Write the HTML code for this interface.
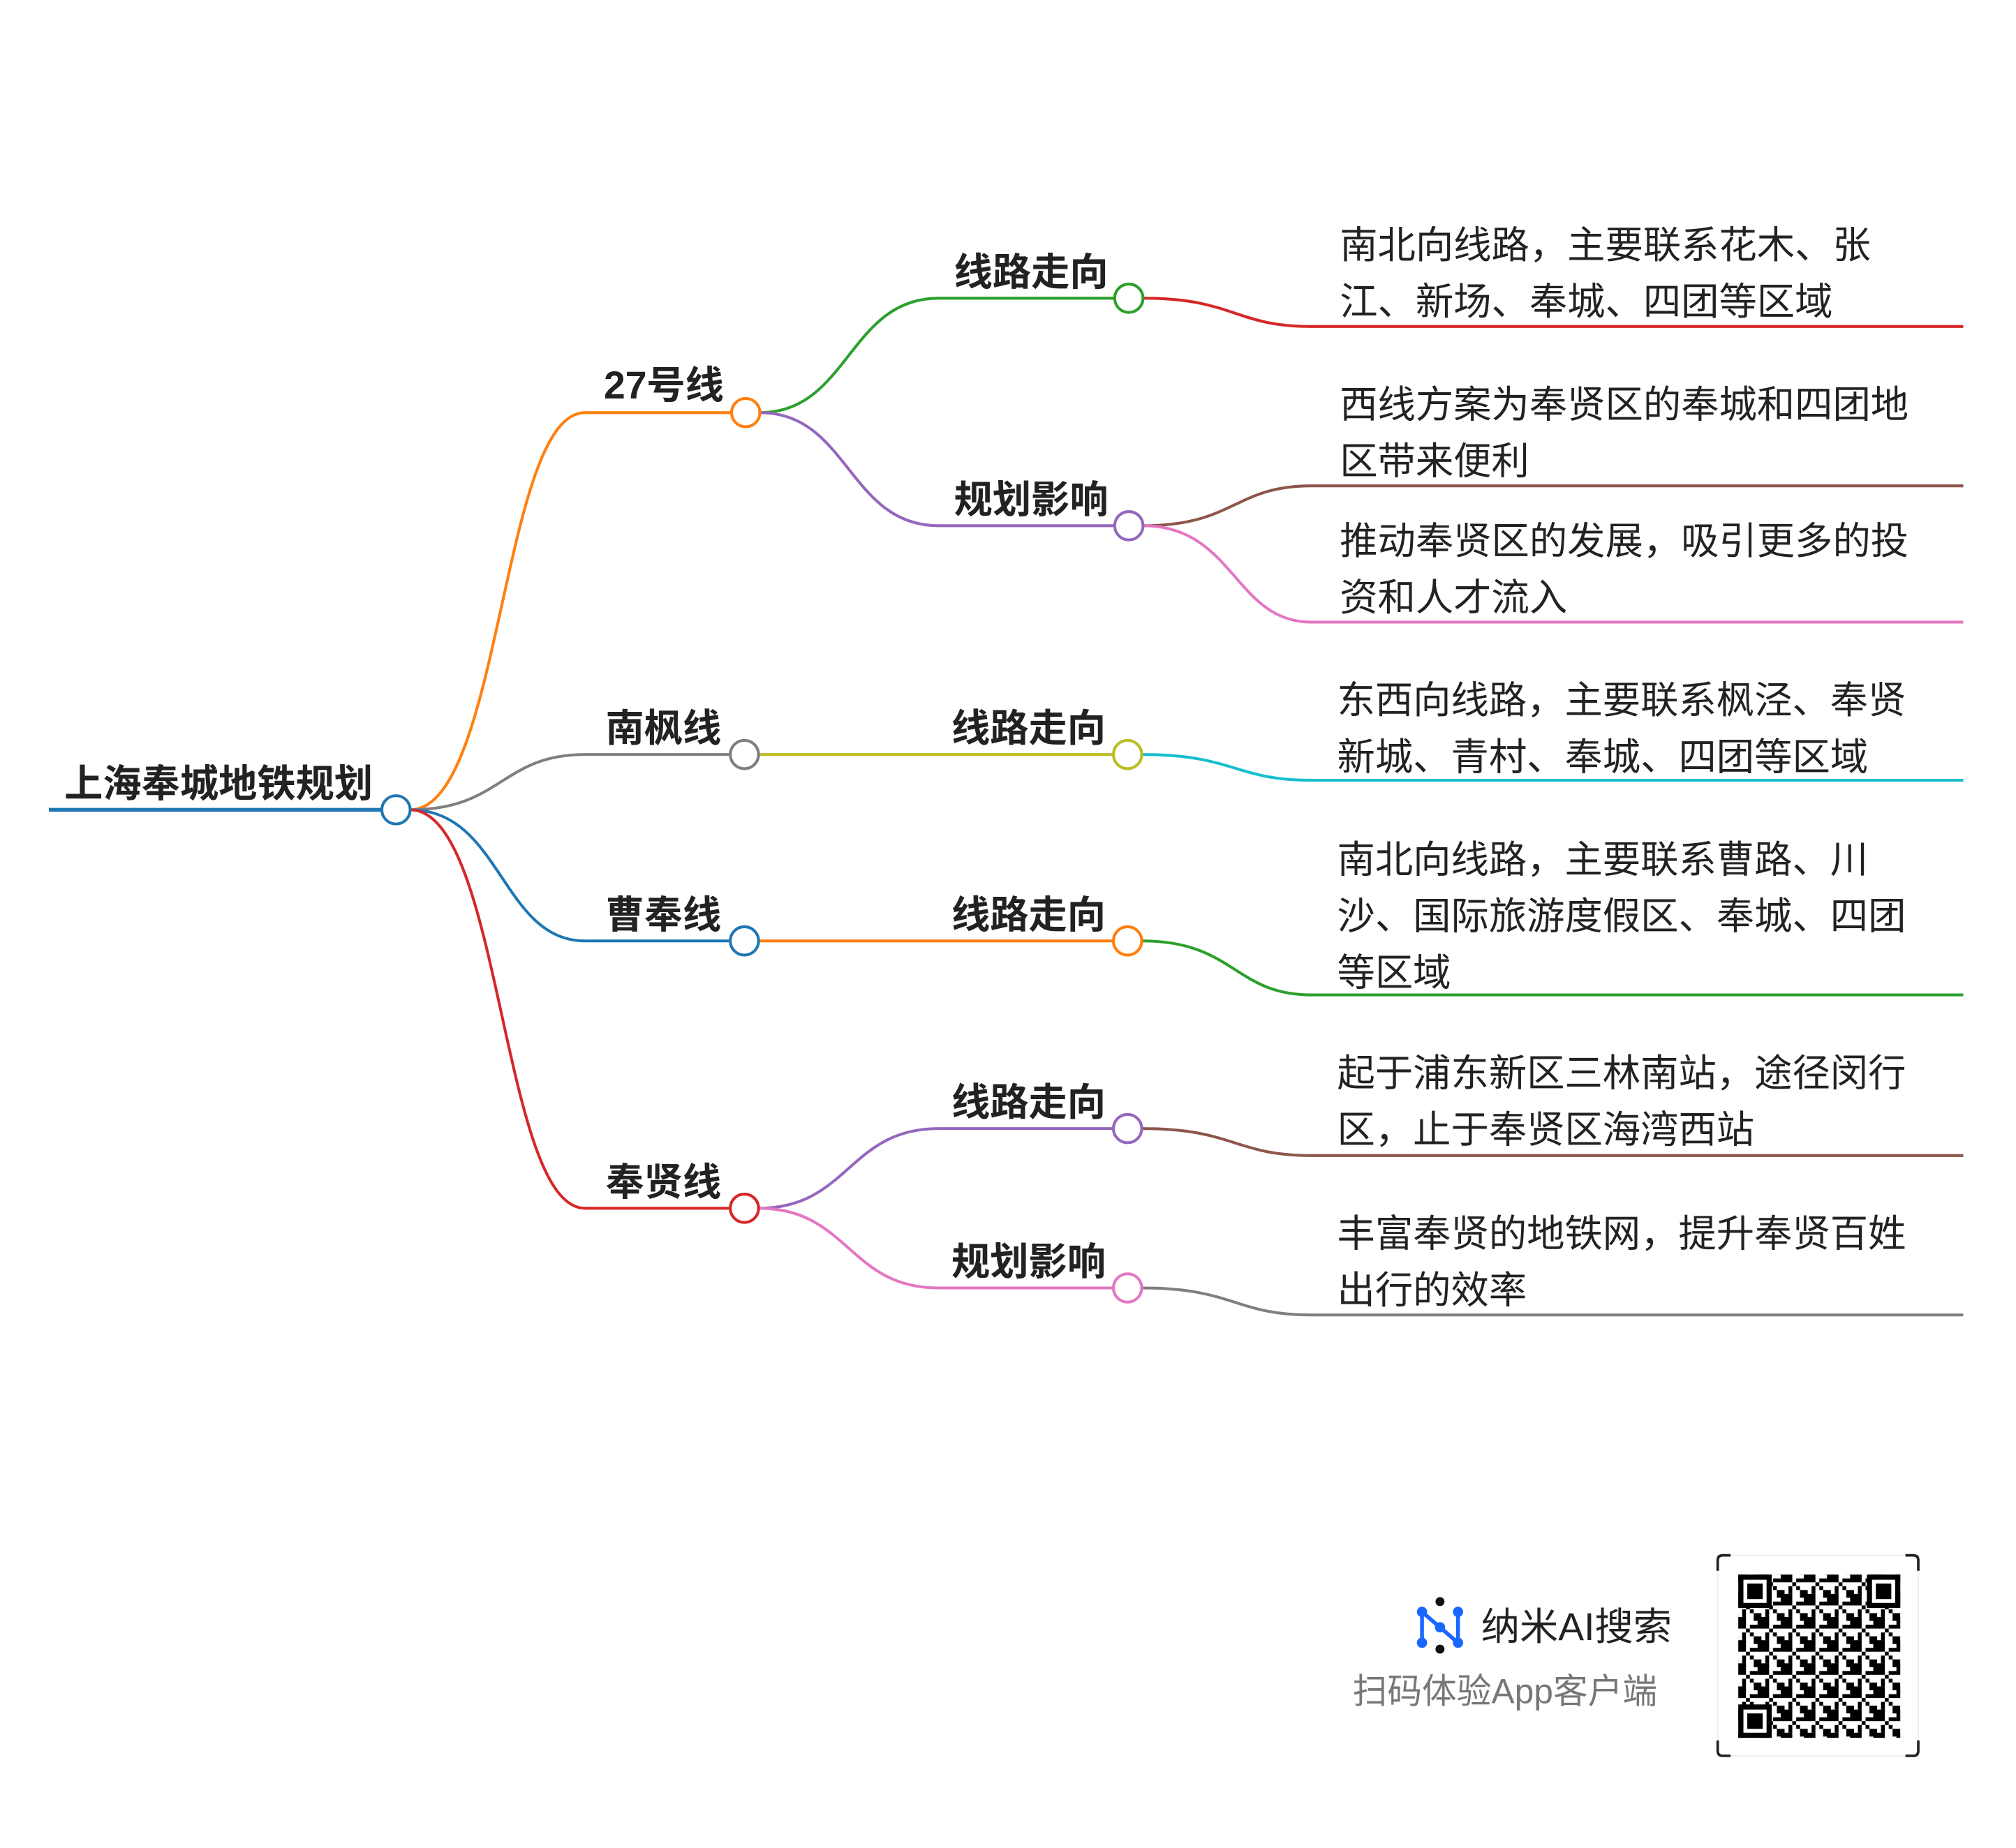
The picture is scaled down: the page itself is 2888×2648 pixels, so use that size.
<!DOCTYPE html>
<html><head><meta charset="utf-8"><style>
html,body{margin:0;padding:0;background:#fff;}
svg{display:block;}
text{font-family:"Liberation Sans","Noto Sans CJK SC",sans-serif;}
.b{font-weight:bold;font-size:30px;fill:#222;}
.t{font-size:29.5px;fill:#222;}
</style></head><body>
<svg width="2888" height="2648" viewBox="0 0 1568 1437.7" xmlns="http://www.w3.org/2000/svg">
<g fill="none" stroke-width="2.2">
<line x1="38" y1="630" x2="297" y2="630" stroke="#1f77b4" stroke-width="3"/>
<path d="M319 630 C390 630 390 321 455 321 L569 321" stroke="#ff7f0e"/>
<path d="M319 630 C390 630 390 587 455 587 L567 587" stroke="#7f7f7f"/>
<path d="M319 630 C390 630 390 732 455 732 L567 732" stroke="#1f77b4"/>
<path d="M319 630 C390 630 390 940 455 940 L567 940" stroke="#d62728"/>
<path d="M591 321 C660 321 660 232 730 232 L867 232" stroke="#2ca02c"/>
<path d="M591 321 C660 321 660 409 730 409 L867 409" stroke="#9467bd"/>
<line x1="590" y1="587" x2="865" y2="587" stroke="#bcbd22"/>
<line x1="590" y1="732" x2="865" y2="732" stroke="#ff7f0e"/>
<path d="M590 940 C660 940 660 878 730 878 L865 878" stroke="#9467bd"/>
<path d="M590 940 C660 940 660 1002 730 1002 L865 1002" stroke="#e377c2"/>
<path d="M889 232 C960 232 960 254 1020 254 L1527 254" stroke="#d62728"/>
<path d="M889 409 C960 409 960 378 1020 378 L1527 378" stroke="#8c564b"/>
<path d="M889 409 C960 409 960 484 1020 484 L1527 484" stroke="#e377c2"/>
<path d="M888 587 C960 587 960 607 1020 607 L1527 607" stroke="#17becf"/>
<path d="M888 732 C960 732 960 774 1020 774 L1527 774" stroke="#2ca02c"/>
<path d="M888 878 C960 878 960 899 1020 899 L1527 899" stroke="#8c564b"/>
<path d="M888 1002 C960 1002 960 1023 1020 1023 L1527 1023" stroke="#7f7f7f"/>
</g>
<g fill="#fff" stroke-width="2.2">
<circle cx="308" cy="630" r="11" stroke="#1f77b4"/>
<circle cx="580" cy="321" r="11" stroke="#ff7f0e"/>
<circle cx="579" cy="587" r="11" stroke="#7f7f7f"/>
<circle cx="579" cy="732" r="11" stroke="#1f77b4"/>
<circle cx="579" cy="940" r="11" stroke="#d62728"/>
<circle cx="878" cy="232" r="11" stroke="#2ca02c"/>
<circle cx="878" cy="409" r="11" stroke="#9467bd"/>
<circle cx="877" cy="587" r="11" stroke="#bcbd22"/>
<circle cx="877" cy="732" r="11" stroke="#ff7f0e"/>
<circle cx="877" cy="878" r="11" stroke="#9467bd"/>
<circle cx="877" cy="1002" r="11" stroke="#e377c2"/>
</g>
<text class="b" x="290" y="620" text-anchor="end">上海奉城地铁规划</text>
<text class="b" x="563" y="310" text-anchor="end">27号线</text>
<text class="b" x="561" y="577" text-anchor="end">南枫线</text>
<text class="b" x="561" y="722" text-anchor="end">曹奉线</text>
<text class="b" x="561" y="930" text-anchor="end">奉贤线</text>
<text class="b" x="862" y="222" text-anchor="end">线路走向</text>
<text class="b" x="862" y="399" text-anchor="end">规划影响</text>
<text class="b" x="860" y="577" text-anchor="end">线路走向</text>
<text class="b" x="860" y="722" text-anchor="end">线路走向</text>
<text class="b" x="860" y="868" text-anchor="end">线路走向</text>
<text class="b" x="860" y="992" text-anchor="end">规划影响</text>
<g class="t">
<text class="t" x="1042" y="201">南北向线路，主要联系花木、张</text>
<text class="t" x="1042" y="245">江、新场、奉城、四团等区域</text>
<text class="t" x="1042" y="325">西线方案为奉贤区的奉城和四团地</text>
<text class="t" x="1042" y="369">区带来便利</text>
<text class="t" x="1042" y="431">推动奉贤区的发展，吸引更多的投</text>
<text class="t" x="1042" y="475">资和人才流入</text>
<text class="t" x="1040" y="555">东西向线路，主要联系枫泾、奉贤</text>
<text class="t" x="1040" y="599">新城、青村、奉城、四团等区域</text>
<text class="t" x="1040" y="679">南北向线路，主要联系曹路、川</text>
<text class="t" x="1040" y="723">沙、国际旅游度假区、奉城、四团</text>
<text class="t" x="1040" y="767">等区域</text>
<text class="t" x="1040" y="845">起于浦东新区三林南站，途径闵行</text>
<text class="t" x="1040" y="889">区，止于奉贤区海湾西站</text>
<text class="t" x="1040" y="970">丰富奉贤的地铁网，提升奉贤百姓</text>
<text class="t" x="1040" y="1014">出行的效率</text>
</g>
<g>
<path d="M1106 1254 L1106 1278 M1106 1254 L1134 1278 M1134 1254 L1134 1278" stroke="#1a66ff" stroke-width="3" fill="none"/>
<circle cx="1106" cy="1254" r="4" fill="#1a66ff"/><circle cx="1106" cy="1278" r="4" fill="#1a66ff"/>
<circle cx="1134" cy="1254" r="4" fill="#1a66ff"/><circle cx="1134" cy="1278" r="4" fill="#1a66ff"/>
<circle cx="1120" cy="1266" r="4" fill="#1a66ff"/>
<circle cx="1120" cy="1246" r="3.5" fill="#111"/><circle cx="1120" cy="1283" r="3.5" fill="#111"/>
<text x="1152" y="1276" style="font-size:30px;fill:#222">纳米AI搜索</text>
<text x="1052" y="1325" style="font-size:27px;fill:#777">扫码体验App客户端</text>
</g>
<defs>
<pattern id="qr" x="1352" y="1225" width="18" height="18" patternUnits="userSpaceOnUse">
<rect width="18" height="18" fill="#fff"/>
<rect x="0" y="0" width="6" height="6" fill="#000"/><rect x="9" y="3" width="6" height="3" fill="#000"/>
<rect x="3" y="9" width="3" height="6" fill="#000"/><rect x="12" y="12" width="6" height="6" fill="#000"/>
<rect x="6" y="6" width="3" height="3" fill="#000"/><rect x="15" y="0" width="3" height="6" fill="#000"/>
<rect x="0" y="15" width="6" height="3" fill="#000"/><rect x="9" y="9" width="3" height="3" fill="#000"/>
</pattern>
</defs>
<rect x="1336" y="1210" width="156" height="156" fill="#fff" stroke="#eee"/>
<path d="M1336 1222 V1214 Q1336 1210 1340 1210 H1346 M1482 1210 H1488 Q1492 1210 1492 1214 V1222 M1336 1354 V1362 Q1336 1366 1340 1366 H1346 M1482 1366 H1488 Q1492 1366 1492 1362 V1354" stroke="#222" stroke-width="2" fill="none"/>
<rect x="1352" y="1225" width="126" height="127" fill="url(#qr)"/>
<g>
<rect x="1352" y="1225" width="26" height="26" fill="#000"/><rect x="1356" y="1229" width="18" height="18" fill="#fff"/><rect x="1359" y="1232" width="12" height="12" fill="#000"/>
<rect x="1452" y="1225" width="26" height="26" fill="#000"/><rect x="1456" y="1229" width="18" height="18" fill="#fff"/><rect x="1459" y="1232" width="12" height="12" fill="#000"/>
<rect x="1352" y="1326" width="26" height="26" fill="#000"/><rect x="1356" y="1330" width="18" height="18" fill="#fff"/><rect x="1359" y="1333" width="12" height="12" fill="#000"/>
</g>
</svg>
</body></html>
